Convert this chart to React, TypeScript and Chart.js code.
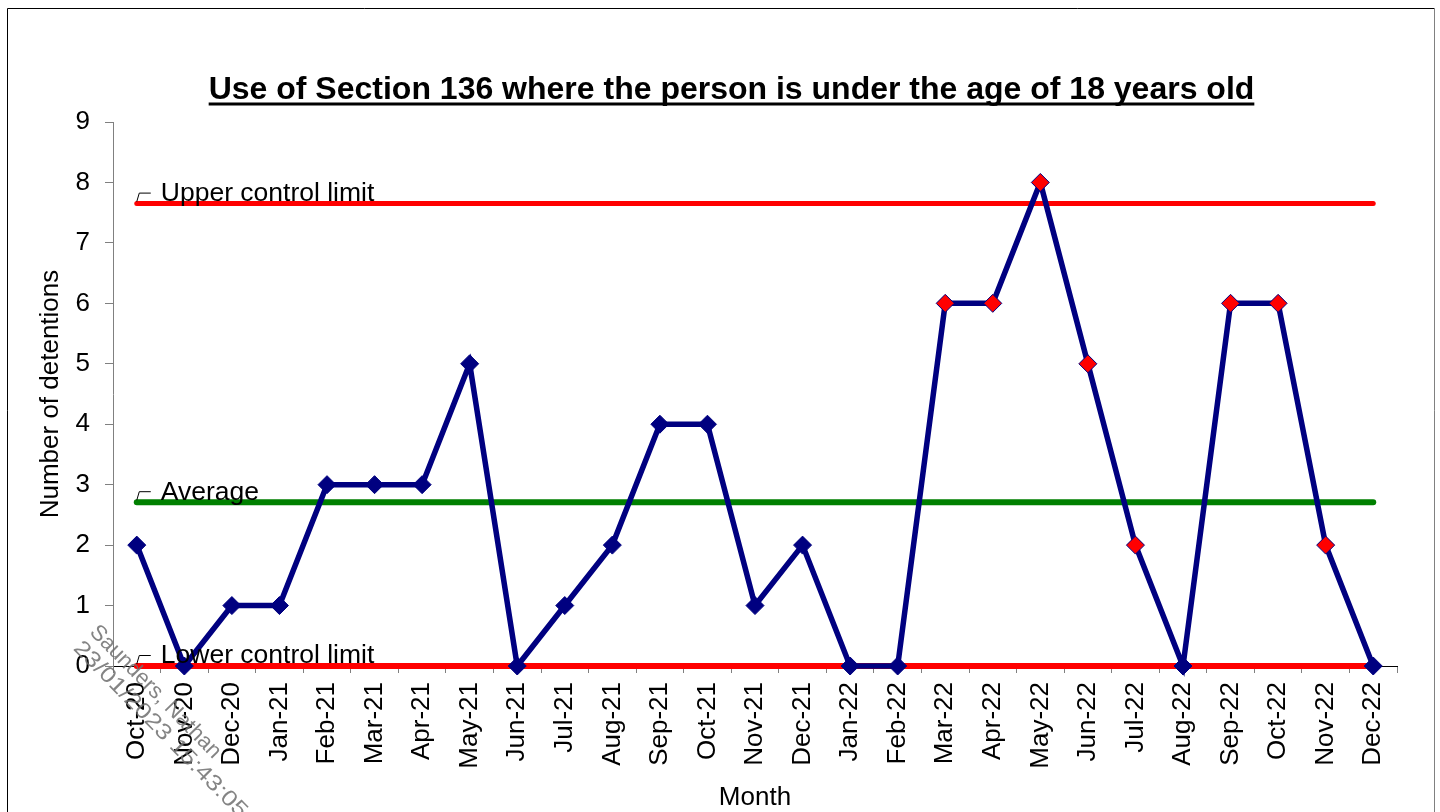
import React, { useEffect, useRef } from "react";
import { Chart, registerables } from "chart.js";

Chart.register(...registerables);

const months = [
  "Oct-20", "Nov-20", "Dec-20", "Jan-21", "Feb-21", "Mar-21", "Apr-21", "May-21", "Jun-21",
  "Jul-21", "Aug-21", "Sep-21", "Oct-21", "Nov-21", "Dec-21", "Jan-22", "Feb-22", "Mar-22",
  "Apr-22", "May-22", "Jun-22", "Jul-22", "Aug-22", "Sep-22", "Oct-22", "Nov-22", "Dec-22",
];
const detentions = [2, 0, 1, 1, 3, 3, 3, 5, 0, 1, 2, 4, 4, 1, 2, 0, 0, 6, 6, 8, 5, 2, 0, 6, 6, 2, 0];
// 1 = flagged (special cause) point, drawn red
const flagged = [0, 0, 0, 0, 0, 0, 0, 0, 0, 0, 0, 0, 0, 0, 0, 0, 0, 1, 1, 1, 1, 1, 0, 1, 1, 1, 0];
const upperControlLimit = 7.65;
const averageValue = 2.71;
const lowerControlLimit = 0;
const yTicks = [0, 1, 2, 3, 4, 5, 6, 7, 8, 9];

const TITLE = "Use of Section 136 where the person is under the age of 18 years old";
const FONT = "'Liberation Sans', Arial, sans-serif";

export default function App() {
  const canvasRef = useRef<HTMLCanvasElement | null>(null);

  useEffect(() => {
    const canvas = canvasRef.current;
    if (!canvas) return;

    const decor = {
      id: "decor",
      beforeDraw(chart: any) {
        const ctx = chart.ctx;
        ctx.save();
        ctx.fillStyle = "#ffffff";
        ctx.fillRect(0, 0, chart.width, chart.height);
        ctx.lineWidth = 1;
        ctx.strokeStyle = "#000000";
        ctx.beginPath();
        ctx.moveTo(7.5, 900);
        ctx.lineTo(7.5, 8.5);
        ctx.lineTo(1434.5, 8.5);
        ctx.stroke();
        ctx.strokeStyle = "#808080";
        ctx.beginPath();
        ctx.moveTo(1434.5, 8.5);
        ctx.lineTo(1434.5, 900);
        ctx.stroke();
        ctx.restore();
      },
      afterDraw(chart: any) {
        const ctx = chart.ctx;
        const xs = chart.scales.x;
        const ys = chart.scales.y;
        const area = chart.chartArea;
        ctx.save();
        // Title
        ctx.fillStyle = "#000000";
        ctx.font = `bold 32px ${FONT}`;
        ctx.textAlign = "center";
        ctx.textBaseline = "alphabetic";
        const tx = 731.5;
        ctx.fillText(TITLE, tx, 99);
        const tw = ctx.measureText(TITLE).width;
        ctx.fillRect(tx - tw / 2, 102.5, tw, 3);

        // Axis titles
        ctx.font = `26px ${FONT}`;
        ctx.textBaseline = "middle";
        ctx.fillText("Month", (area.left + area.right) / 2, 798);
        ctx.save();
        ctx.translate(51, (area.top + area.bottom) / 2);
        ctx.rotate(-Math.PI / 2);
        ctx.fillText("Number of detentions", 0, 0);
        ctx.restore();

        // Control line labels
        const x0 = xs.getPixelForValue(0);
        const labels: [string, number][] = [
          ["Upper control limit", upperControlLimit],
          ["Average", averageValue],
          ["Lower control limit", lowerControlLimit],
        ];
        ctx.textAlign = "left";
        ctx.strokeStyle = "#000000";
        ctx.lineWidth = 1;
        ctx.font = `26.5px ${FONT}`;
        for (const [text, v] of labels) {
          const y = ys.getPixelForValue(v);
          ctx.beginPath();
          ctx.moveTo(x0, y - 2);
          ctx.lineTo(x0 + 2.5, y - 10.5);
          ctx.lineTo(x0 + 14, y - 10.5);
          ctx.stroke();
          ctx.fillText(text, x0 + 24, y - 10);
        }

        // Watermark
        ctx.save();
        ctx.translate(101, 621);
        ctx.rotate((45.5 * Math.PI) / 180);
        ctx.fillStyle = "rgba(110,110,110,0.85)";
        ctx.font = `22px ${FONT}`;
        ctx.textBaseline = "top";
        ctx.fillText("Saunders, Nathan", 0, 0);
        const l2 = "23/01/2023 15:43:05";
        const w2 = ctx.measureText(l2).width;
        ctx.translate(0, 23);
        ctx.scale(238 / w2, 1);
        ctx.fillText(l2, 0, 0);
        ctx.restore();

        ctx.restore();
      },
    };

    const lineDs = (label: string, value: number, color: string, width: number, order: number) => ({
      label,
      data: months.map(() => value),
      borderColor: color,
      backgroundColor: color,
      borderWidth: width,
      borderCapStyle: "round",
      pointRadius: 0,
      pointHoverRadius: 0,
      fill: false,
      clip: false,
      order,
    });

    const chart = new Chart(canvas, {
      type: "line",
      data: {
        labels: months,
        datasets: [
          {
            label: "Detentions",
            data: detentions,
            borderColor: "#000080",
            borderWidth: 5.5,
            pointStyle: "rectRot",
            pointRadius: 9,
            pointHoverRadius: 9,
            pointBackgroundColor: flagged.map((f) => (f ? "#ff0000" : "#000080")),
            pointBorderColor: "#000080",
            pointBorderWidth: 1,
            tension: 0,
            fill: false,
            clip: false,
            order: 0,
          } as any,
          lineDs("Upper control limit", upperControlLimit, "#ff0000", 5, 1) as any,
          lineDs("Average", averageValue, "#008000", 6, 2) as any,
          lineDs("Lower control limit", lowerControlLimit, "#ff0000", 6, 3) as any,
        ],
      },
      options: {
        responsive: false,
        animation: false,
        events: [],
        layout: { padding: { top: 122, right: 43, left: 0, bottom: 0 } },
        plugins: {
          legend: { display: false },
          title: { display: false },
          tooltip: { enabled: false },
        },
        scales: {
          x: {
            type: "category",
            offset: true,
            grid: {
              offset: true,
              drawOnChartArea: false,
              drawTicks: true,
              tickLength: 7,
              color: "#808080",
            },
            border: { display: true, color: "#000000", width: 1 },
            ticks: {
              autoSkip: false,
              maxRotation: 90,
              minRotation: 90,
              padding: 9,
              color: "#000000",
              font: { family: FONT, size: 26 },
            },
            afterFit: (scale: any) => {
              scale.height = 146;
            },
          },
          y: {
            type: "linear",
            min: 0,
            max: 9,
            afterBuildTicks: (scale: any) => {
              scale.ticks = yTicks.map((v) => ({ value: v }));
            },
            grid: {
              drawOnChartArea: false,
              drawTicks: true,
              tickLength: 8,
              color: "#808080",
            },
            border: { display: true, color: "#808080", width: 1 },
            ticks: {
              padding: 15,
              color: "#000000",
              font: { family: FONT, size: 26 },
            },
            afterFit: (scale: any) => {
              scale.width = 113;
            },
          },
        },
      } as any,
      plugins: [decor],
    });

    return () => chart.destroy();
  }, []);

  return (
    <div style={{ position: "absolute", left: 0, top: 0, width: 1440, height: 812 }}>
      <canvas ref={canvasRef} width={1440} height={812} style={{ width: 1440, height: 812, display: "block" }} />
    </div>
  );
}
